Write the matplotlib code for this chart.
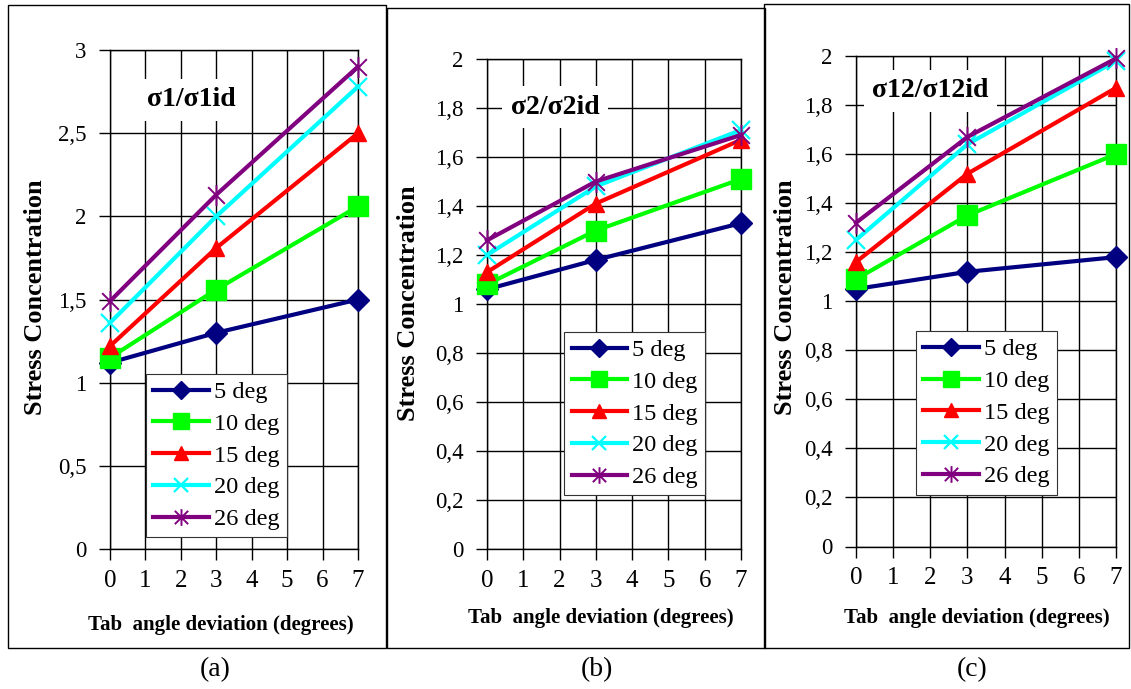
import matplotlib
matplotlib.use("Agg")
import matplotlib.pyplot as plt
from matplotlib.path import Path
from matplotlib.patches import Rectangle
from matplotlib.ticker import FuncFormatter, MultipleLocator

# Tab angle deviation (degrees) on the x axis
deviation = [0, 3, 7]
series_labels = ["5 deg", "10 deg", "15 deg", "20 deg", "26 deg"]

# Stress concentration per series (rows follow series_labels)
sigma1_ratio = [
    [1.12, 1.30, 1.50],
    [1.15, 1.56, 2.06],
    [1.22, 1.81, 2.50],
    [1.36, 2.00, 2.78],
    [1.49, 2.13, 2.90],
]
sigma2_ratio = [
    [1.06, 1.18, 1.33],
    [1.08, 1.30, 1.51],
    [1.13, 1.41, 1.67],
    [1.20, 1.48, 1.71],
    [1.26, 1.50, 1.69],
]
sigma12_ratio = [
    [1.05, 1.12, 1.18],
    [1.09, 1.35, 1.60],
    [1.16, 1.52, 1.87],
    [1.25, 1.64, 1.98],
    [1.32, 1.67, 1.99],
]
panel_titles = ["σ1/σ1id", "σ2/σ2id", "σ12/σ12id"]
panel_captions = ["(a)", "(b)", "(c)"]

SERIF = "Liberation Serif"
plt.rcParams["font.family"] = [SERIF, "DejaVu Serif"]

# asterisk marker: an x with a vertical stroke
star_path = Path(
    [(-1, -1), (1, 1), (-1, 1), (1, -1), (0, -1.25), (0, 1.25)],
    [Path.MOVETO, Path.LINETO, Path.MOVETO, Path.LINETO, Path.MOVETO, Path.LINETO],
)

styles = [
    dict(color="#000080", marker="D", markersize=11),
    dict(color="#00FF00", marker="s", markersize=14),
    dict(color="#FF0000", marker="^", markersize=12),
    dict(color="#00FFFF", marker="x", markersize=13, markeredgewidth=1.6),
    dict(color="#800080", marker=star_path, markersize=15, markeredgewidth=1.4),
]

W, H = 1131, 689
fig = plt.figure(figsize=(W / 100, H / 100), dpi=100)


def fx(px):
    return px / W


def fy(py):
    return 1 - py / H


# axes rectangles in pixel terms: left, top, right, bottom
axes_px = [(110, 50, 358, 549), (487, 59, 741, 549), (856, 56, 1116, 546.5)]
ylims = [(3, 0.5), (2, 0.2), (2, 0.2)]
datasets = [sigma1_ratio, sigma2_ratio, sigma12_ratio]
title_pos = [(0.327, 0.90), (0.268, 0.902), (0.285, 0.929)]
legend_anchor = [(0.145, 0.351), (0.304, 0.443), (0.231, 0.439)]
ylabel_pos = [(-0.30, 0.505), (-0.31, 0.502), (-0.273, 0.509)]
xlabel_pos = [(0.445, -0.152), (0.45, -0.141), (0.465, -0.146)]
borders_px = [(8, 5, 386, 648), (387, 8, 765, 648), (764, 4, 1129, 648)]
caption_x = [215, 597, 972]


def comma_fmt(v, _):
    s = f"{v:.1f}".rstrip("0").rstrip(".")
    return s.replace(".", ",")


for i in range(3):
    l, t, r, b = axes_px[i]
    ax = fig.add_axes([fx(l), fy(b), fx(r - l), (b - t) / H])
    for vals, lab, st in zip(datasets[i], series_labels, styles):
        ax.plot(deviation, vals, label=lab, linewidth=3, clip_on=False,
                zorder=3, markeredgecolor=st["color"], **st)
    ymax, ystep = ylims[i]
    ax.set_xlim(0, 7)
    ax.set_ylim(0, ymax)
    ax.xaxis.set_major_locator(MultipleLocator(1))
    ax.yaxis.set_major_locator(MultipleLocator(ystep))
    ax.yaxis.set_major_formatter(FuncFormatter(comma_fmt))
    ax.grid(True, color="black", linewidth=1)
    ax.set_axisbelow(True)
    for sp in ax.spines.values():
        sp.set_linewidth(1)
    ax.tick_params(direction="out", length=8, width=1)
    ax.tick_params(axis="x", labelsize=18, pad=7)
    ax.tick_params(axis="y", labelsize=16.5, pad=9)
    for tl in ax.get_xticklabels() + ax.get_yticklabels():
        tl.set_fontfamily(SERIF)

    ax.text(*title_pos[i], panel_titles[i], transform=ax.transAxes,
            ha="center", va="center", fontsize=20, fontweight="bold",
            bbox=dict(facecolor="white", edgecolor="none", pad=6), zorder=2)

    leg = ax.legend(loc="upper left", bbox_to_anchor=legend_anchor[i],
                    borderaxespad=0, fontsize=17.5, fancybox=False,
                    framealpha=1, edgecolor="#333333", handlelength=2.3,
                    handletextpad=0.2, labelspacing=0.4, borderpad=0.3,
                    markerscale=0.8)
    leg.get_frame().set_linewidth(0.8)
    leg.set_zorder(4)

    ax.text(*ylabel_pos[i], "Stress Concentration", transform=ax.transAxes,
            rotation=90, ha="center", va="center", fontsize=19,
            fontweight="bold")
    ax.text(*xlabel_pos[i], "Tab  angle deviation (degrees)",
            transform=ax.transAxes, ha="center", va="center", fontsize=15,
            fontweight="bold")

    bl, bt, br, bb = borders_px[i]
    fig.patches.append(Rectangle((fx(bl), fy(bb)), fx(br - bl), (bb - bt) / H,
                                 transform=fig.transFigure, fill=False,
                                 edgecolor="black", linewidth=1))
    fig.text(fx(caption_x[i]), fy(670), panel_captions[i], ha="center",
             va="center", fontsize=20)

fig.savefig("out.png", dpi=100)
